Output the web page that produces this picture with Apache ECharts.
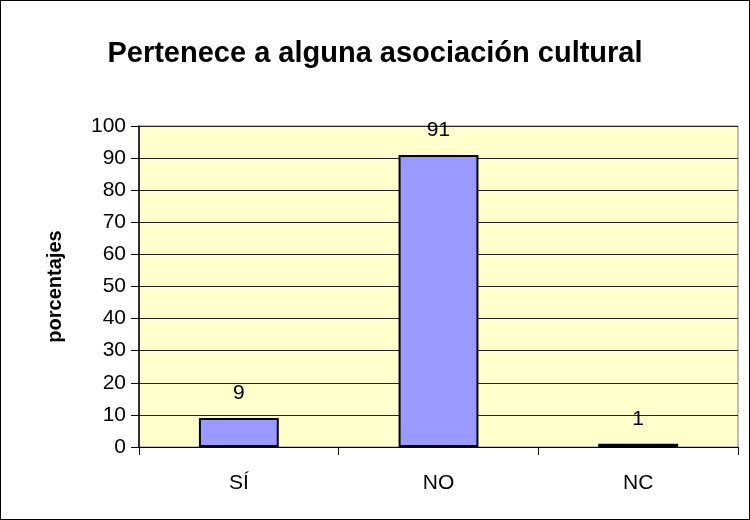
<!DOCTYPE html>
<html>
<head>
<meta charset="utf-8">
<script src="https://cdn.jsdelivr.net/npm/echarts@6/dist/echarts.min.js"></script>
<style>
  html, body { margin: 0; padding: 0; background: #fff; }
  #chart { width: 750px; height: 520px; box-sizing: border-box; border: 1px solid #000; }
</style>
</head>
<body>
<div id="chart"></div>
<script>
// datos del gráfico
const categories = ['SÍ', 'NO', 'NC'];
const values = [9, 91, 1];
const yTicks = [0, 10, 20, 30, 40, 50, 60, 70, 80, 90, 100];

const font = '"Liberation Sans", Arial, sans-serif';
const chart = echarts.init(document.getElementById('chart'));
chart.setOption({
    animation: false,
    title: {
        text: 'Pertenece a alguna asociación cultural',
        left: 'center',
        top: 33,
        textStyle: { fontFamily: font, fontSize: 29, fontWeight: 'bold', color: '#000' }
    },
    grid: {
        left: 138, right: 11, top: 125, bottom: 72,
        show: true,
        backgroundColor: '#FFFFCC',
        borderColor: '#808080',
        borderWidth: 1
    },
    xAxis: {
        type: 'category',
        data: categories,
        axisLine: { lineStyle: { color: '#000', width: 1 } },
        axisTick: { show: true, length: 8, lineStyle: { color: '#000' } },
        axisLabel: { margin: 26, fontFamily: font, fontSize: 21, color: '#000' }
    },
    yAxis: {
        type: 'value',
        min: yTicks[0],
        max: yTicks[yTicks.length - 1],
        interval: 10,
        name: 'porcentajes',
        nameLocation: 'middle',
        nameGap: 74,
        nameTextStyle: { fontFamily: font, fontSize: 20, fontWeight: 'bold', color: '#000' },
        axisLine: { show: true, lineStyle: { color: '#000', width: 1.5 } },
        axisTick: { show: true, length: 8, lineStyle: { color: '#000' } },
        axisLabel: { margin: 13, fontFamily: font, fontSize: 21, color: '#000' },
        splitLine: { lineStyle: { color: '#222', width: 1 } }
    },
    series: [{
        type: 'bar',
        data: values,
        barWidth: '40%',
        itemStyle: { color: '#9999FF', borderColor: '#000', borderWidth: 2 },
        label: {
            show: true,
            position: 'top',
            distance: 14,
            fontFamily: font,
            fontSize: 21,
            color: '#000'
        }
    }]
});
</script>
</body>
</html>
